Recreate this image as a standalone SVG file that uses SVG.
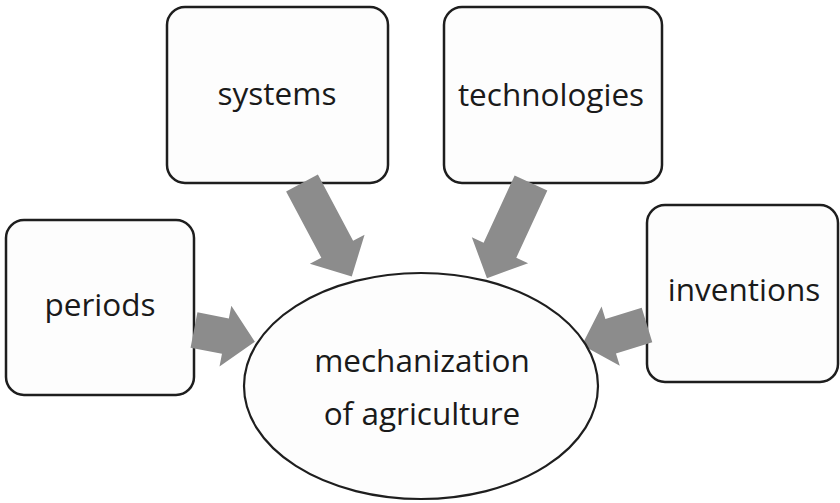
<svg xmlns="http://www.w3.org/2000/svg" width="840" height="503" viewBox="0 0 840 503">
<style>
.box{fill:#fdfdfd;stroke:#1e1e1e;stroke-width:2.5}
.ell{fill:#fdfdfd;stroke:#1e1e1e;stroke-width:2.2}
.arr{fill:#8c8c8c}
text{font-family:"Open Sans","DejaVu Sans",sans-serif;font-size:31.5px;fill:#1a1a1a;text-anchor:middle}
</style>
<rect width="840" height="503" fill="#ffffff"/>
<g id="systems"><rect class="box" x="167" y="7" width="221" height="176" rx="18"/><text x="277" y="105">systems</text></g>
<g id="technologies"><rect class="box" x="444" y="7" width="218" height="176" rx="18"/><text x="551" y="106">technologies</text></g>
<g id="periods"><rect class="box" x="6" y="220" width="188" height="175" rx="18"/><text x="100" y="316">periods</text></g>
<g id="inventions"><rect class="box" x="647" y="205" width="191" height="177" rx="18"/><text x="744" y="301">inventions</text></g>
<g id="connectors">
<path class="arr" transform="translate(302,183) rotate(62)" d="M0,-18 L75,-18 L75,-31 L106,0 L75,31 L75,18 L0,18 Z"/>
<path class="arr" transform="translate(531,183) rotate(114.8)" d="M0,-18 L74,-18 L74,-31 L105,0 L74,31 L74,18 L0,18 Z"/>
<path class="arr" transform="translate(194,330) rotate(11)" d="M0,-18 L32,-18 L32,-31 L62,0 L32,31 L32,18 L0,18 Z"/>
<path class="arr" transform="translate(647,325) rotate(162.9)" d="M0,-18 L38,-18 L38,-31 L68,0 L38,31 L38,18 L0,18 Z"/>
</g>
<g id="mechanization"><ellipse class="ell" cx="421" cy="386" rx="177" ry="113"/><text x="422" y="372">mechanization</text><text x="422" y="425">of agriculture</text></g>
</svg>
